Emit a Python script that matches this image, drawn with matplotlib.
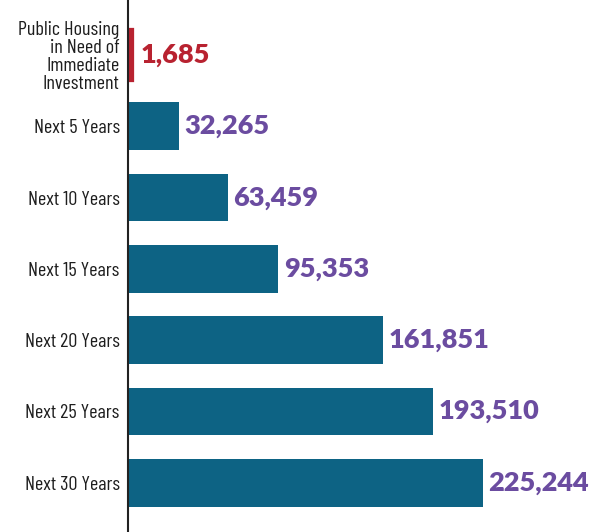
import matplotlib
matplotlib.use("Agg")
import matplotlib.pyplot as plt

categories = ["Public Housing\nin Need of\nImmediate\nInvestment", "Next 5 Years", "Next 10 Years",
              "Next 15 Years", "Next 20 Years", "Next 25 Years", "Next 30 Years"]
values = [1685, 32265, 63459, 95353, 161851, 193510, 225244]
bar_colors = ["#b82230", "#0d6384", "#0d6384", "#0d6384", "#0d6384", "#0d6384", "#0d6384"]
label_colors = ["#b82230", "#6b4ca0", "#6b4ca0", "#6b4ca0", "#6b4ca0", "#6b4ca0", "#6b4ca0"]

fig = plt.figure(figsize=(5.95, 5.32), dpi=100)
ax = fig.add_axes([128/595, 0, 467/595, 1])
y = list(range(len(categories)))
bars = ax.barh(y, values, height=0.67, color=bar_colors, edgecolor=bar_colors,
               linewidth=[4.5 if i == 0 else 0 for i in y], zorder=2)
ax.set_ylim(6.69, -0.77)
ax.set_xlim(0, 296300)
ax.set_yticks(y)
ax.set_yticklabels(categories, fontfamily=["Barlow Condensed", "DejaVu Sans"],
                   fontsize=14.5, color="#1e1e1e", linespacing=1.0)
ax.tick_params(axis="y", length=0, pad=6)
ax.tick_params(axis="x", bottom=False, labelbottom=False)
for s in ["top", "right", "bottom"]:
    ax.spines[s].set_visible(False)
ax.spines["left"].set_linewidth(1.5)
ax.spines["left"].set_color("#222222")
ax.spines["left"].set_zorder(3)

for i, v in enumerate(values):
    off = 7 if i == 0 else 4
    ax.annotate(f"{v:,}", (v, i), xytext=(off, 0), textcoords="offset points",
                va="center", ha="left", fontsize=19.5, fontweight="heavy",
                fontfamily=["Lato", "DejaVu Sans"], color=label_colors[i])

fig.savefig("out.png", dpi=100)
